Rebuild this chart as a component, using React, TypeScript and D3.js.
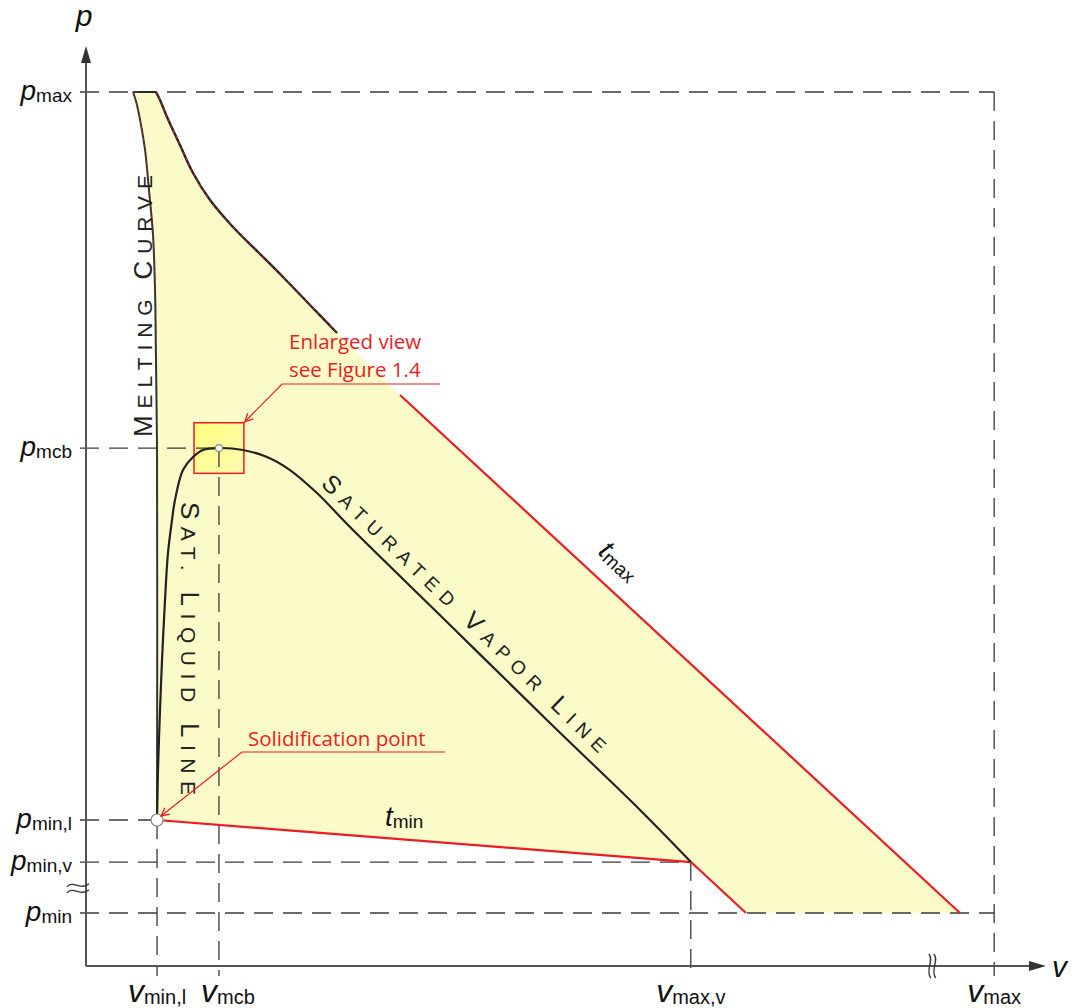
import * as d3 from 'd3';
import React from 'react';

const WIDTH = 1072;
const HEIGHT = 1008;

// axis levels, arbitrary units (0..100 along each axis)
const vKeys = ['min,l', 'mcb', 'max,v', 'max'];
const vValues = [7.4, 13.85, 63.0, 94.6];
const pKeys = ['max', 'mcb', 'min,l', 'min,v', 'min'];
const pValues = [95.0, 56.3, 15.87, 11.3, 5.76];

// which v each horizontal guide runs to, and which p each vertical guide starts from
const hGuideEnd = ['max', 'mcb', 'min,l', 'max,v', 'max'];
const vGuideTop = ['min,l', 'mcb', 'min,v', 'max'];

// melting curve
const meltV = [4.9, 5.31, 5.73, 6.15, 6.56, 6.98, 7.19, 7.29, 7.4, 7.4];
const meltP = [95.0, 93.59, 91.41, 88.7, 84.35, 79.46, 73.48, 65.87, 56.09, 15.87];

// t_max isotherm, high pressure part (curved)
const tmaxCurveV = [7.29, 7.71, 8.44, 9.79, 11.15, 12.92, 15.31, 17.92, 20.52, 23.33, 26.15];
const tmaxCurveP = [95.0, 94.13, 92.28, 89.24, 86.2, 83.26, 80.33, 77.61, 74.89, 71.85, 68.8];
// t_max isotherm, straight part
const tmaxLineV = [32.71, 91.04];
const tmaxLineP = [62.07, 5.76];

// t_min isotherm
const tminV = [7.4, 63.02];
const tminP = [15.87, 11.3];
const tminTailV = [63.02, 68.75];
const tminTailP = [11.3, 5.76];

// saturated liquid line (from solidification point up to critical point)
const liqV = [7.4, 7.5, 7.71, 7.92, 8.23, 8.54, 8.96, 9.27, 10.1, 11.15, 12.19, 13.85];
const liqP = [15.87, 21.3, 27.83, 33.26, 39.78, 44.89, 48.48, 50.65, 53.91, 55.33, 56.09, 56.3];

// saturated vapor line
const vapV = [13.85, 16.35, 18.85, 21.25, 24.06, 27.5, 37.92, 48.33, 57.71, 63.02];
const vapP = [56.3, 56.09, 55.33, 53.91, 51.41, 47.72, 37.07, 26.41, 16.96, 11.3];

const RED = '#ec1c24';
const DARK = '#222';
const GUIDE = '#3a3a3a';
const FILL = '#fbfbc9';

const zip = (a: number[], b: number[]) => a.map((d, i) => [d, b[i]] as [number, number]);

function caps(label: string) {
  const out: { t: string; big: boolean }[] = [];
  label.split(' ').forEach((w, i) => {
    if (i) out.push({ t: ' ', big: false });
    out.push({ t: w[0], big: true });
    if (w.length > 1) out.push({ t: w.slice(1), big: false });
  });
  return out;
}

function CapsText({ label, transform, length, big, small }: any) {
  return (
    <text transform={transform} textLength={length} lengthAdjust="spacing"
      fontFamily="'Liberation Sans', Arial, sans-serif" fill={DARK} style={{ whiteSpace: 'pre' }}>
      {caps(label).map((p, i) => (
        <tspan key={i} fontSize={p.big ? big : small}>{p.t}</tspan>
      ))}
    </text>
  );
}

function Sym({ x, y, base, sub, anchor, size = 28, subSize = 19 }: any) {
  return (
    <text x={x} y={y} textAnchor={anchor} fontFamily="'Liberation Sans', Arial, sans-serif" fill="#111">
      <tspan fontStyle="italic" fontSize={size}>{base}</tspan>
      <tspan fontSize={subSize} dy={2}>{sub}</tspan>
    </text>
  );
}

export default function App() {
  const x = d3.scaleLinear().domain([0, 100]).range([86, 1046]);
  const y = d3.scaleLinear().domain([0, 100]).range([966, 46]);
  const line = d3.line<[number, number]>().x(d => x(d[0])).y(d => y(d[1]));
  const smooth = d3.line<[number, number]>().x(d => x(d[0])).y(d => y(d[1])).curve(d3.curveCatmullRom.alpha(0.5));

  const vOf = (k: string) => vValues[vKeys.indexOf(k)];
  const pOf = (k: string) => pValues[pKeys.indexOf(k)];

  const melt = zip(meltV, meltP);
  const tmaxCurve = zip(tmaxCurveV, tmaxCurveP);
  const tmaxLine = zip(tmaxLineV, tmaxLineP);
  const tmin = zip(tminV, tminP);
  const tminTail = zip(tminTailV, tminTailP);
  const dome = zip(liqV, liqP).concat(zip(vapV, vapP).slice(1));

  const region = [
    ...tmaxCurve,
    ...tmaxLine,
    tminTail[1],
    ...tmin.slice().reverse(),
    ...melt.slice().reverse(),
  ] as [number, number][];

  const x0 = x(0), y0 = y(0);
  const vmcb = vOf('mcb'), pmcb = pOf('mcb');

  const wave = (cx: number, cy: number, vertical: boolean) =>
    vertical
      ? `M${cx - 2},${cy - 12} C${cx + 4},${cy - 6} ${cx - 6},${cy + 4} ${cx},${cy + 12}`
      : `M${cx - 11},${cy + 2} C${cx - 5},${cy - 5} ${cx + 3},${cy + 6} ${cx + 11},${cy - 1}`;

  return (
    <svg width={WIDTH} height={HEIGHT} style={{ position: 'absolute', left: 0, top: 0, background: '#fff' }}>
      <defs>
        <marker id="redArrow" viewBox="0 0 10 10" refX={9} refY={5} markerWidth={10} markerHeight={10}
          orient="auto" markerUnits="userSpaceOnUse">
          <path d="M1,1 L9,5 L1,9" fill="none" stroke={RED} strokeWidth={1.3} />
        </marker>
        <linearGradient id="boxFill" x1="0" y1="0" x2="1" y2="1">
          <stop offset="0" stopColor="#ffff80" />
          <stop offset="1" stopColor="#fdfbb0" />
        </linearGradient>
      </defs>

      {/* region between t_min and t_max */}
      <path d={line(region) + 'Z'} fill={FILL} stroke="none" />

      {/* enlarged view box */}
      <rect x={x(vmcb - 2.6)} y={y(pmcb + 2.75)} width={x(vmcb + 2.6) - x(vmcb - 2.6)}
        height={y(pmcb - 2.75) - y(pmcb + 2.75)} fill="url(#boxFill)" stroke={RED} strokeWidth={1.5} />

      {/* guides */}
      <g stroke={GUIDE} strokeWidth={1.3} strokeDasharray="19,10" fill="none">
        {pKeys.map((k, i) => (
          <line key={k} x1={x0 - 6} x2={x(vOf(hGuideEnd[i]))} y1={y(pValues[i])} y2={y(pValues[i])} />
        ))}
        {vKeys.map((k, i) => (
          <line key={k} x1={x(vValues[i])} x2={x(vValues[i])} y1={y(pOf(vGuideTop[i]))} y2={y0 + 10} />
        ))}
      </g>

      {/* axes */}
      <g stroke="#555" strokeWidth={2}>
        <line x1={x0} x2={x0} y1={y0} y2={y(100) + 14} />
        <line x1={x0} x2={x(100) - 14} y1={y0} y2={y0} />
      </g>
      <path d={`M${x0},${y(100)} L${x0 - 5},${y(100) + 17} L${x0 + 5},${y(100) + 17}Z`} fill="#333" />
      <path d={`M${x(100)},${y0} L${x(100) - 17},${y0 - 5} L${x(100) - 17},${y0 + 5}Z`} fill="#333" />
      <g fill="none" stroke="#333" strokeWidth={1.3}>
        <path d={wave(x(88.2) - 2, y0, true)} />
        <path d={wave(x(88.2) + 3, y0, true)} />
        <path d={wave(x0 - 8, y(8.5) - 3, false)} />
        <path d={wave(x0 - 8, y(8.5) + 3, false)} />
      </g>

      {/* isotherms */}
      <path d={smooth(tmaxCurve) ?? ''} fill="none" stroke={DARK} strokeWidth={2.4} />
      <path d={smooth(tmaxCurve) ?? ''} fill="none" stroke={RED} strokeWidth={1} strokeDasharray="3,3" />
      <line x1={x(tmaxCurveV[0])} x2={x(meltV[0])} y1={y(95)} y2={y(95)} stroke={DARK} strokeWidth={1.8} />
      <path d={line(tmaxLine) ?? ''} fill="none" stroke={RED} strokeWidth={2.2} />
      <path d={line(tmin) ?? ''} fill="none" stroke={RED} strokeWidth={2.2} />
      <path d={line(tminTail) ?? ''} fill="none" stroke={RED} strokeWidth={2.2} />

      {/* melting curve and saturation dome */}
      <path d={smooth(melt) ?? ''} fill="none" stroke="#333" strokeWidth={2} />
      <path d={smooth(melt.slice(0, 7)) ?? ''} fill="none" stroke={RED} strokeWidth={0.8} strokeDasharray="2,4" />
      <path d={smooth(dome) ?? ''} fill="none" stroke={DARK} strokeWidth={2.2} />

      <circle cx={x(vmcb)} cy={y(pmcb)} r={3.5} fill="#fff" stroke="#888" strokeWidth={1.2} />
      <circle cx={x(vOf('min,l'))} cy={y(pOf('min,l'))} r={6} fill="#fff" stroke="#888" strokeWidth={1.2} />

      {/* curve labels */}
      <CapsText label="MELTING CURVE" transform="translate(152,437) rotate(-90)" length={262} big={26} small={21} />
      <CapsText label="SAT. LIQUID LINE" transform="translate(181,502) rotate(90)" length={293} big={26} small={21} />
      <CapsText label="SATURATED VAPOR LINE" transform="translate(320,485) rotate(44)" length={387} big={25} small={19} />
      <g transform="translate(597,553) rotate(43)">
        <Sym x={0} y={0} base="t" sub="max" anchor="start" />
      </g>
      <Sym x={385} y={826} base="t" sub="min" anchor="start" />

      {/* axis labels */}
      {pKeys.map((k, i) => (
        <Sym key={k} x={x0 - 14} y={y(pValues[i]) + 8} base="p" sub={k} anchor="end" />
      ))}
      {vKeys.map((k, i) => (
        <Sym key={k} x={x(vValues[i]) + (k === 'mcb' ? 9 : 0)} y={1002} base="v" sub={k} anchor="middle" size={32} subSize={20} />
      ))}
      <text x={x0 - 2} y={26} textAnchor="middle" fontStyle="italic" fontSize={30} fontFamily="'Liberation Sans', Arial, sans-serif" fill="#111">p</text>
      <text x={1052} y={977} fontStyle="italic" fontSize={30} fontFamily="'Liberation Sans', Arial, sans-serif" fill="#111">v</text>

      {/* annotations */}
      <g fontFamily="'Open Sans', sans-serif" fontSize={20.5} fill={RED}>
        <text x={289} y={349}>Enlarged view</text>
        <text x={289} y={377}>see Figure 1.4</text>
        <text x={248} y={746}>Solidification point</text>
      </g>
      <g fill="none" stroke={RED} strokeWidth={1.2}>
        <polyline points={`440,384 282,384 ${x(vmcb + 2.6) + 1},${y(pmcb + 2.75) - 1}`} markerEnd="url(#redArrow)" />
        <polyline points={`445,752 242,752 ${x(vOf('min,l')) + 4},${y(pOf('min,l')) - 4}`} markerEnd="url(#redArrow)" />
      </g>
    </svg>
  );
}
